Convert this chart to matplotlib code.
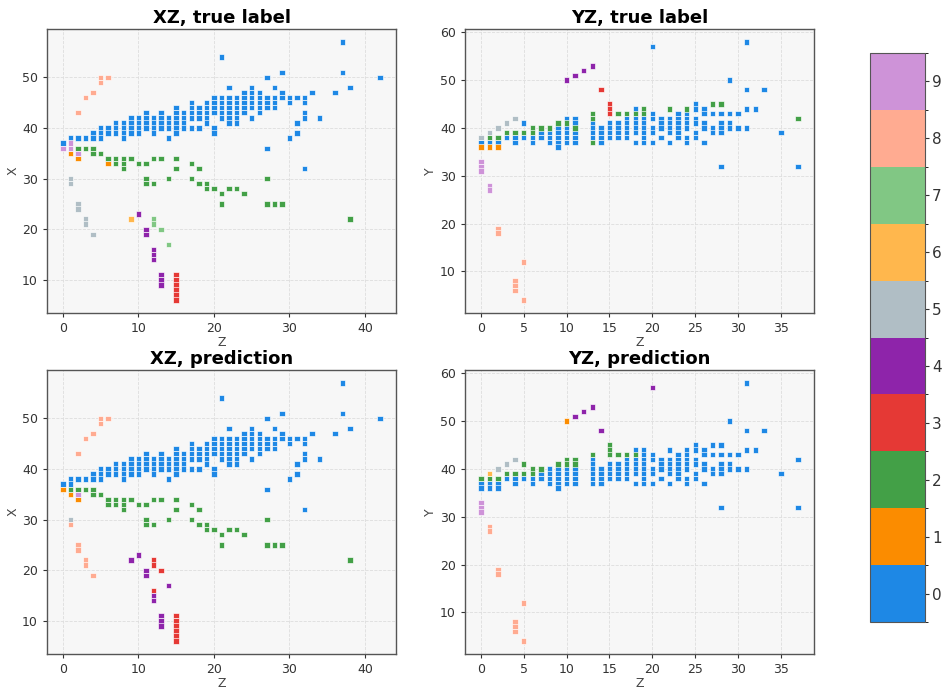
import numpy as np
import matplotlib
matplotlib.use("Agg")
import matplotlib.pyplot as plt
from matplotlib.colors import ListedColormap, BoundaryNorm

# Class palette (labels 0..9)
class_colors = ["#1e88e5", "#fb8c00", "#43a047", "#e53935", "#8e24aa",
                "#b0bec5", "#ffb74d", "#81c784", "#ffab91", "#ce93d8"]
class_ticks = list(range(10))

# Each entry: (Z column, list of coordinate values in that column, class label)
xz_true = [
    # label 0
    (0, [37], 0), (1, [38], 0), (2, [38], 0), (3, [38], 0), (4, [39, 38], 0),
    (5, [40, 39, 38], 0), (6, [40, 39], 0), (7, [41, 40, 39], 0), (8, [41, 40, 39, 38], 0),
    (9, [42, 41, 40, 39], 0), (10, [42, 41, 40, 39], 0), (11, [43, 42, 41, 40], 0),
    (12, [42, 41, 40, 39], 0), (13, [43, 42, 41, 40], 0), (14, [42, 41, 40, 38], 0),
    (15, [44, 43, 42, 41, 40, 39], 0), (16, [43, 42, 41, 40], 0), (17, [45, 44, 43, 42, 40], 0),
    (18, [44, 43, 42, 40], 0), (19, [45, 44, 43, 42, 41], 0), (20, [46, 45, 44, 43, 40, 39], 0),
    (21, [54, 46, 45, 44, 43, 42], 0), (22, [48, 46, 45, 44, 43, 42, 41], 0),
    (23, [46, 45, 44, 43, 42, 41], 0), (24, [47, 46, 45, 44, 43], 0),
    (25, [48, 47, 46, 45, 44, 42], 0), (26, [47, 46, 45, 44, 43], 0), (27, [50, 46, 45, 44, 36], 0),
    (28, [48, 46, 45, 44], 0), (29, [51, 47, 46], 0), (30, [46, 45, 38], 0), (31, [46, 41, 39], 0),
    (32, [46, 45, 43, 42, 32], 0), (33, [47], 0), (34, [42], 0), (36, [47], 0), (37, [57, 51], 0),
    (38, [48], 0), (42, [50], 0),
    # label 1
    (1, [35], 1), (2, [34], 1), (6, [33], 1),
    # label 2
    (2, [36], 2), (3, [36], 2), (4, [36, 35], 2), (5, [35], 2), (6, [34], 2), (7, [34, 33], 2),
    (8, [34, 33, 32], 2), (9, [34], 2), (10, [33], 2), (11, [33, 30, 29], 2), (12, [34, 29], 2),
    (13, [34], 2), (14, [30], 2), (15, [34, 32], 2), (17, [33, 30], 2), (18, [32, 29], 2),
    (19, [29, 28], 2), (20, [28], 2), (21, [27, 25], 2), (22, [28], 2), (23, [28], 2), (24, [27], 2),
    (27, [30, 25], 2), (28, [25], 2), (29, [25], 2), (38, [22], 2),
    # label 3
    (15, [11, 10, 9, 8, 7, 6], 3),
    # label 4
    (10, [23], 4), (11, [20, 19], 4), (12, [16, 15, 14], 4), (13, [11, 10, 9], 4),
    # label 5
    (1, [30, 29], 5), (2, [25, 24], 5), (3, [22, 21], 5), (4, [19], 5),
    # label 6
    (9, [22], 6),
    # label 7
    (12, [22, 21], 7), (13, [20], 7), (14, [17], 7),
    # label 8
    (2, [43], 8), (3, [46], 8), (4, [47], 8), (5, [50, 49], 8), (6, [50], 8),
    # label 9
    (0, [36], 9), (1, [37, 36], 9), (2, [35], 9),
]

xz_pred = [
    # label 0
    (0, [37], 0), (1, [38, 37], 0), (2, [38], 0), (3, [38], 0), (4, [39, 38], 0),
    (5, [40, 39, 38], 0), (6, [40, 39], 0), (7, [41, 40, 39], 0), (8, [41, 40, 39, 38], 0),
    (9, [42, 41, 40, 39], 0), (10, [42, 41, 40, 39], 0), (11, [43, 42, 41, 40], 0),
    (12, [42, 41, 40, 39], 0), (13, [43, 42, 41, 40], 0), (14, [42, 41, 40, 38], 0),
    (15, [44, 43, 42, 41, 40, 39], 0), (16, [43, 42, 41, 40], 0), (17, [45, 44, 43, 42, 40], 0),
    (18, [44, 43, 42, 40], 0), (19, [45, 44, 43, 42, 41], 0), (20, [46, 45, 44, 43, 40, 39], 0),
    (21, [54, 46, 45, 44, 43, 42], 0), (22, [48, 46, 45, 44, 43, 42, 41], 0),
    (23, [46, 45, 44, 43, 42, 41], 0), (24, [47, 46, 45, 44, 43], 0),
    (25, [48, 47, 46, 45, 44, 42], 0), (26, [47, 46, 45, 44, 43], 0), (27, [50, 46, 45, 44, 36], 0),
    (28, [48, 46, 45, 44], 0), (29, [51, 47, 46], 0), (30, [46, 45, 38], 0), (31, [46, 41, 39], 0),
    (32, [46, 45, 43, 42, 32], 0), (33, [47], 0), (34, [42], 0), (36, [47], 0), (37, [57, 51], 0),
    (38, [48], 0), (42, [50], 0),
    # label 1
    (0, [36], 1), (1, [35], 1), (2, [34], 1),
    # label 2
    (1, [36], 2), (2, [36], 2), (3, [36], 2), (4, [36, 35], 2), (5, [35], 2), (6, [34, 33], 2),
    (7, [34, 33], 2), (8, [34, 33, 32], 2), (9, [34], 2), (10, [33], 2), (11, [33, 30, 29], 2),
    (12, [34, 29], 2), (13, [34], 2), (14, [30], 2), (15, [34, 32], 2), (17, [33, 30], 2),
    (18, [32, 29], 2), (19, [29, 28], 2), (20, [28], 2), (21, [27, 25], 2), (22, [28], 2),
    (23, [28], 2), (24, [27], 2), (27, [30, 25], 2), (28, [25], 2), (29, [25], 2), (38, [22], 2),
    # label 3
    (12, [22, 21, 16], 3), (13, [20], 3), (15, [11, 10, 9, 8, 7, 6], 3),
    # label 4
    (9, [22], 4), (10, [23], 4), (11, [20, 19], 4), (12, [15, 14], 4), (13, [11, 10, 9], 4),
    (14, [17], 4),
    # label 5
    (1, [30], 5),
    # label 8
    (1, [29], 8), (2, [43, 25, 24], 8), (3, [46, 22, 21], 8), (4, [47, 19], 8),
    (5, [50, 49], 8), (6, [50], 8),
    # label 9
    (2, [35], 9),
]

yz_true = [
    # label 0
    (0, [37], 0), (1, [37], 0), (2, [37], 0), (3, [38], 0), (4, [38, 37], 0), (5, [41, 38], 0),
    (6, [38, 37], 0), (7, [39, 38], 0), (8, [39, 38, 37], 0), (9, [40, 39, 38, 37, 36], 0),
    (10, [42, 40, 39, 38, 37], 0), (11, [42, 41, 39, 38, 37], 0), (13, [41, 40, 39, 38], 0),
    (14, [40, 39, 38, 37], 0), (15, [41, 40, 39, 38], 0), (16, [41, 40, 39, 38], 0),
    (17, [42, 41, 40, 39, 38], 0), (18, [44, 42, 41, 40, 39, 37], 0),
    (19, [42, 41, 40, 39, 38, 37], 0), (20, [57, 43, 42, 40, 39, 37], 0),
    (21, [42, 41, 40, 38], 0), (22, [42, 41, 40, 39, 37], 0), (23, [43, 42, 41, 40, 39, 38], 0),
    (24, [43, 42, 41, 40, 38, 37], 0), (25, [45, 44, 42, 41, 39, 38], 0),
    (26, [44, 43, 41, 40, 37], 0), (27, [43, 40, 39], 0), (28, [43, 41, 40, 39, 32], 0),
    (29, [50, 43, 41, 40], 0), (30, [43, 40], 0), (31, [58, 48, 44, 40], 0), (32, [44], 0),
    (33, [48], 0), (35, [39], 0), (37, [32], 0),
    # label 1
    (0, [36], 1), (1, [36], 1), (2, [36], 1),
    # label 2
    (1, [38], 2), (2, [38], 2), (3, [39], 2), (4, [39], 2), (5, [39], 2), (6, [40, 39], 2),
    (7, [40], 2), (8, [40], 2), (9, [41], 2), (10, [41], 2), (11, [40], 2), (13, [43, 42, 37], 2),
    (16, [43], 2), (17, [43], 2), (18, [43], 2), (19, [44, 43], 2), (22, [44], 2), (24, [44], 2),
    (27, [45], 2), (28, [45], 2), (37, [42], 2),
    # label 3
    (14, [48], 3), (15, [45, 44, 43], 3),
    # label 4
    (10, [50], 4), (11, [51], 4), (12, [52], 4), (13, [53], 4),
    # label 5
    (0, [38], 5), (1, [39], 5), (2, [40], 5), (3, [41], 5), (4, [42], 5),
    # label 8
    (2, [19, 18], 8), (4, [8, 7, 6], 8), (5, [12, 4], 8),
    # label 9
    (0, [33, 32, 31], 9), (1, [28, 27], 9),
]

yz_pred = [
    # label 0
    (0, [37, 36], 0), (1, [37, 36], 0), (2, [37, 36], 0), (3, [38], 0), (4, [38, 37], 0),
    (5, [38], 0), (6, [38, 37], 0), (7, [39, 38], 0), (8, [40, 39, 38, 37], 0),
    (9, [40, 39, 38, 37, 36], 0), (10, [40, 39, 38, 37], 0), (11, [40, 39, 38, 37], 0),
    (13, [42, 41, 40, 39, 38, 37], 0), (14, [40, 39, 38, 37], 0), (15, [41, 40, 39, 38], 0),
    (16, [41, 40, 39, 38], 0), (17, [42, 41, 40, 39, 38], 0), (18, [44, 42, 41, 40, 39, 37], 0),
    (19, [44, 43, 42, 41, 40, 39, 38, 37], 0), (20, [43, 42, 40, 39, 37], 0),
    (21, [42, 41, 40, 38], 0), (22, [44, 42, 41, 40, 39, 37], 0),
    (23, [43, 42, 41, 40, 39, 38], 0), (24, [44, 43, 42, 41, 40, 38, 37], 0),
    (25, [45, 44, 42, 41, 39, 38], 0), (26, [44, 43, 41, 40, 37], 0), (27, [45, 43, 40, 39], 0),
    (28, [45, 43, 41, 40, 39, 32], 0), (29, [50, 43, 41, 40], 0), (30, [43, 40], 0),
    (31, [58, 48, 44, 40], 0), (32, [44], 0), (33, [48], 0), (35, [39], 0), (37, [42, 32], 0),
    # label 1
    (10, [50], 1),
    # label 2
    (0, [38], 2), (1, [38], 2), (2, [38], 2), (3, [39], 2), (4, [39], 2), (5, [41, 39], 2),
    (6, [40, 39], 2), (7, [40], 2), (9, [41], 2), (10, [42, 41], 2), (11, [42, 41], 2),
    (13, [43], 2), (15, [45, 44, 43], 2), (16, [43], 2), (17, [43], 2), (18, [43], 2),
    # label 4
    (11, [51], 4), (12, [52], 4), (13, [53], 4), (14, [48], 4), (20, [57], 4),
    # label 5
    (2, [40], 5), (3, [41], 5), (4, [42], 5),
    # label 6
    (1, [39], 6),
    # label 8
    (1, [28, 27], 8), (2, [19, 18], 8), (4, [8, 7, 6], 8), (5, [12, 4], 8),
    # label 9
    (0, [33, 32, 31], 9),
]


def expand(entries):
    zs, vs, labs = [], [], []
    for z, vals, lab in entries:
        for v in vals:
            zs.append(z)
            vs.append(v)
            labs.append(lab)
    return np.array(zs), np.array(vs), np.array(labs)


cmap = ListedColormap(class_colors)
norm = BoundaryNorm(np.arange(-0.5, 10.5, 1), cmap.N)

W, H = 946, 690
fig = plt.figure(figsize=(W / 100, H / 100), dpi=100)

panels = [
    (xz_true, "XZ, true label", "X", (47, 29, 349, 284)),
    (yz_true, "YZ, true label", "Y", (465, 29, 349, 284)),
    (xz_pred, "XZ, prediction", "X", (47, 370, 349, 284)),
    (yz_pred, "YZ, prediction", "Y", (465, 370, 349, 284)),
]

sc = None
for entries, title, ylab, (px, py, pw, ph) in panels:
    ax = fig.add_axes([px / W, 1 - (py + ph) / H, pw / W, ph / H])
    ax.set_facecolor("#f7f7f7")
    z, v, lab = expand(entries)
    sc = ax.scatter(z, v, c=lab, cmap=cmap, norm=norm, marker="s", s=15,
                    edgecolors="white", linewidths=0.45, zorder=3)
    ax.grid(True, linestyle="--", linewidth=0.6, color="#dddddd", zorder=0)
    ax.set_axisbelow(True)
    ax.set_title(title, fontsize=13, fontweight="bold", pad=4)
    ax.set_xlabel("Z", fontsize=9, color="#444444", labelpad=1)
    ax.set_ylabel(ylab, fontsize=9, color="#444444", labelpad=2)
    ax.tick_params(labelsize=9, colors="#333333", length=3)
    for s in ax.spines.values():
        s.set_color("#555555")
        s.set_linewidth(1.0)

cax = fig.add_axes([870 / W, 1 - 622 / H, 55 / W, 569 / H])
cb = fig.colorbar(sc, cax=cax, ticks=class_ticks)
cb.ax.tick_params(labelsize=11, length=3, pad=2, colors="#333333")
cb.outline.set_edgecolor("#555555")

fig.savefig("out.png", dpi=100)
